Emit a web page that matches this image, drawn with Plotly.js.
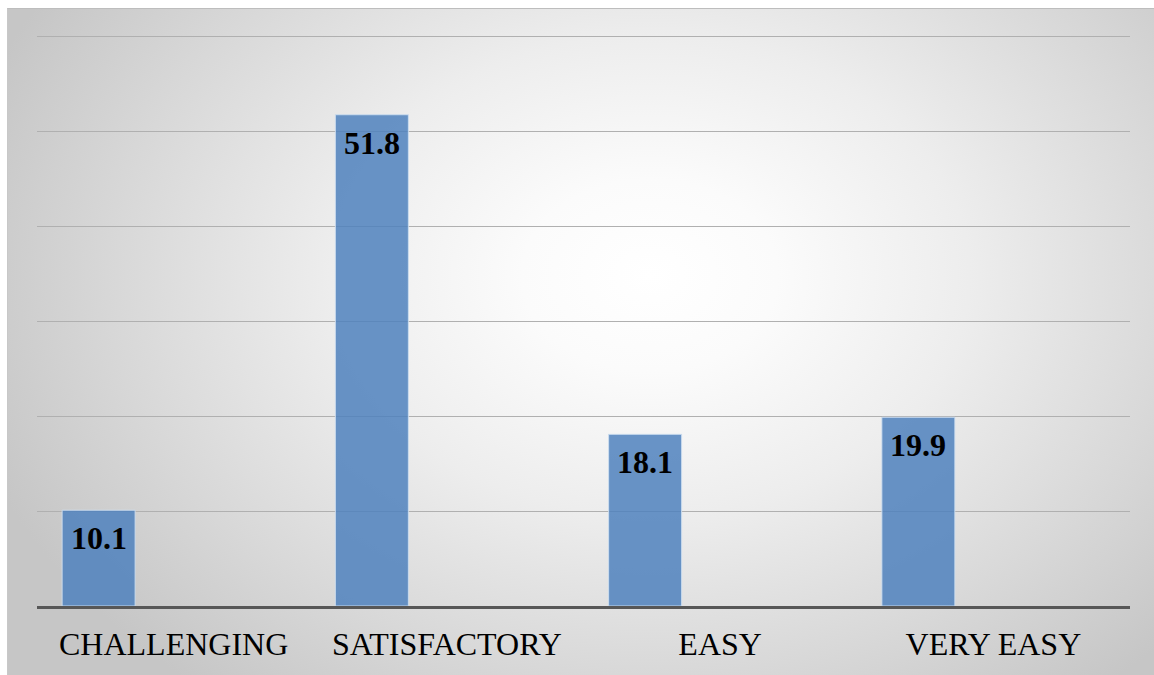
<!DOCTYPE html>
<html>
<head>
<meta charset="utf-8">
<script src="https://cdn.plot.ly/plotly-3.0.1.min.js"></script>
<style>
  html, body { margin: 0; padding: 0; background: #ffffff; }
  #wrap { position: relative; width: 1154px; height: 675px; overflow: hidden; }
  #bg {
    position: absolute; left: 7px; top: 8px; right: 0; bottom: 0;
    border-top: 1px solid #bdbdbd; border-left: 1px solid #c8c8c8;
    background: radial-gradient(ellipse 62% 80% at 56% 40%, #ffffff 0%, #fbfbfb 18%, #ededed 45%, #d8d8d8 75%, #c6c6c6 100%);
  }
  #chart { position: absolute; left: 0; top: 0; width: 1154px; height: 675px; }
</style>
</head>
<body>
<div id="wrap">
  <div id="bg"></div>
  <div id="chart"></div>
</div>
<script>
const categories = ["CHALLENGING", "SATISFACTORY", "EASY", "VERY EASY"];
const values = [10.1, 51.8, 18.1, 19.9];
const valueLabels = ["10.1", "51.8", "18.1", "19.9"];

const SERIF = "Liberation Serif";
const BAR_WIDTH = 0.267;
const BAR_OFFSET = -0.408;

const trace = {
  type: "bar",
  x: categories,
  y: values,
  width: BAR_WIDTH,
  offset: BAR_OFFSET,
  marker: { color: "rgba(79,129,189,0.85)", line: { color: "rgba(205,222,240,0.9)", width: 1 } },
  hoverinfo: "none"
};

// value labels placed at the top inside each bar, positioned from the data
const annotations = values.map((v, i) => ({
  x: i + BAR_OFFSET + BAR_WIDTH / 2,
  y: v,
  xref: "x",
  yref: "y",
  text: "<b>" + valueLabels[i] + "</b>",
  showarrow: false,
  xanchor: "center",
  yanchor: "top",
  yshift: -8,
  font: { family: SERIF, size: 32, color: "#000000" }
}));

const layout = {
  width: 1154,
  height: 675,
  margin: { l: 37, r: 24, t: 35, b: 69 },
  paper_bgcolor: "rgba(0,0,0,0)",
  plot_bgcolor: "rgba(0,0,0,0)",
  showlegend: false,
  font: { family: SERIF },
  annotations: annotations,
  xaxis: {
    type: "category",
    range: [-0.5, 3.5],
    showgrid: false,
    showline: true,
    linecolor: "#575757",
    linewidth: 3,
    ticks: "",
    ticklabelstandoff: 8,
    tickfont: { family: SERIF, size: 32, color: "#000000" },
    fixedrange: true
  },
  yaxis: {
    range: [0, 60.21],
    dtick: 10,
    showgrid: true,
    gridcolor: "#b0b0b0",
    gridwidth: 1,
    showticklabels: false,
    zeroline: false,
    showline: false,
    ticks: "",
    fixedrange: true
  }
};

Plotly.newPlot("chart", [trace], layout, { displayModeBar: false, staticPlot: true });
</script>
</body>
</html>
